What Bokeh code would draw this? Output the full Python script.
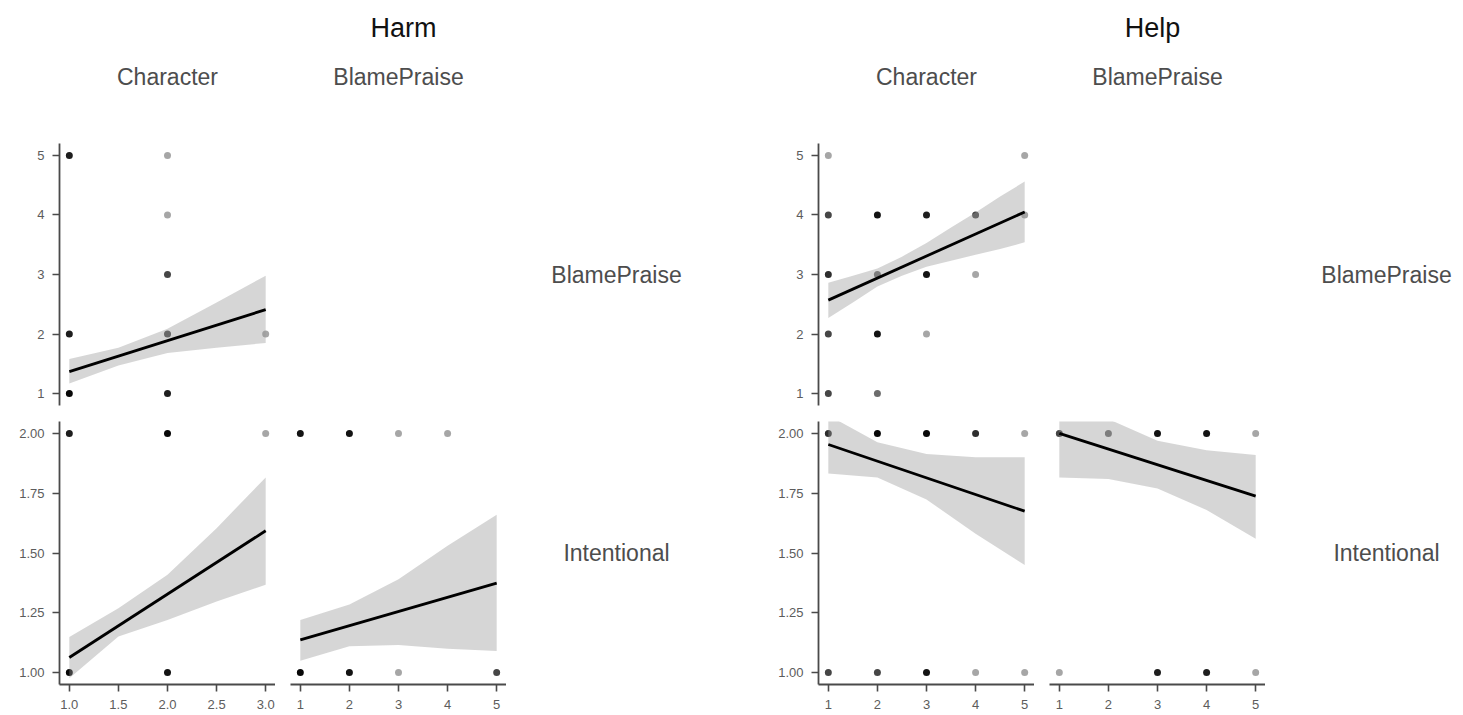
from bokeh.plotting import figure
from bokeh.layouts import row, column
from bokeh.models import Range1d, FixedTicker, PrintfTickFormatter, Spacer, ColumnDataSource
from bokeh.core.properties import value
from bokeh.embed import file_html
from bokeh.resources import INLINE

# ---------------------------------------------------------------- data
# Each scatter cell: x value, y value, number of responses stacked on that spot.

# Harm: BlamePraise ~ Character
harm_bc_x = [1, 1, 1, 2, 2, 2, 2, 2, 3]
harm_bc_y = [5, 2, 1, 5, 4, 3, 2, 1, 2]
harm_bc_n = [5, 5, 8, 1, 1, 3, 3, 5, 1]
harm_bc_fit_x = [1, 3]
harm_bc_fit_y = [1.37, 2.41]
harm_bc_band_x = [1, 1.5, 2, 2.5, 3]
harm_bc_lo = [1.17, 1.47, 1.68, 1.77, 1.85]
harm_bc_hi = [1.58, 1.77, 2.09, 2.53, 2.98]

# Harm: Intentional ~ Character
harm_ic_x = [1, 2, 3, 1, 2]
harm_ic_y = [2, 2, 2, 1, 1]
harm_ic_n = [5, 8, 1, 8, 6]
harm_ic_fit_x = [1, 3]
harm_ic_fit_y = [1.063, 1.593]
harm_ic_band_x = [1, 1.5, 2, 2.5, 3]
harm_ic_lo = [0.976, 1.151, 1.22, 1.297, 1.367]
harm_ic_hi = [1.149, 1.269, 1.409, 1.604, 1.816]

# Harm: Intentional ~ BlamePraise
harm_ib_x = [1, 2, 3, 4, 1, 2, 3, 5]
harm_ib_y = [2, 2, 2, 2, 1, 1, 1, 1]
harm_ib_n = [6, 6, 1, 1, 8, 6, 1, 3]
harm_ib_fit_x = [1, 5]
harm_ib_fit_y = [1.137, 1.374]
harm_ib_band_x = [1, 2, 3, 4, 5]
harm_ib_lo = [1.049, 1.11, 1.115, 1.10, 1.09]
harm_ib_hi = [1.22, 1.285, 1.39, 1.53, 1.66]

# Help: BlamePraise ~ Character
help_bc_x = [1, 1, 1, 1, 1, 2, 2, 2, 2, 3, 3, 3, 4, 4, 5, 5]
help_bc_y = [5, 4, 3, 2, 1, 4, 3, 2, 1, 4, 3, 2, 4, 3, 5, 4]
help_bc_n = [1, 3, 4, 3, 3, 6, 2, 6, 2, 5, 6, 1, 3, 1, 1, 1]
help_bc_fit_x = [1, 5]
help_bc_fit_y = [2.57, 4.05]
help_bc_band_x = [1, 1.5, 2, 2.5, 3, 3.5, 4, 4.5, 5]
help_bc_lo = [2.27, 2.53, 2.80, 2.98, 3.13, 3.23, 3.33, 3.43, 3.54]
help_bc_hi = [2.86, 2.98, 3.10, 3.30, 3.53, 3.79, 4.04, 4.31, 4.56]

# Help: Intentional ~ Character
help_ic_x = [1, 2, 3, 4, 5, 1, 2, 3, 4, 5]
help_ic_y = [2, 2, 2, 2, 2, 1, 1, 1, 1, 1]
help_ic_n = [4, 8, 8, 4, 1, 3, 3, 6, 1, 1]
help_ic_fit_x = [1, 5]
help_ic_fit_y = [1.954, 1.675]
help_ic_band_x = [1, 2, 3, 4, 5]
help_ic_lo = [1.832, 1.816, 1.724, 1.58, 1.45]
help_ic_hi = [2.076, 1.963, 1.914, 1.90, 1.90]

# Help: Intentional ~ BlamePraise
help_ib_x = [1, 2, 3, 4, 5, 1, 3, 4, 5]
help_ib_y = [2, 2, 2, 2, 2, 1, 1, 1, 1]
help_ib_n = [3, 2, 6, 6, 1, 1, 5, 5, 1]
help_ib_fit_x = [1, 5]
help_ib_fit_y = [2.00, 1.738]
help_ib_band_x = [1, 2, 3, 4, 5]
help_ib_lo = [1.816, 1.81, 1.77, 1.68, 1.56]
help_ib_hi = [2.184, 2.06, 1.97, 1.93, 1.91]

groups = ["Harm", "Help"]
variables = ["Character", "BlamePraise", "Intentional"]

char_ticks_harm = [1.0, 1.5, 2.0, 2.5, 3.0]
char_ticks_help = [1, 2, 3, 4, 5]
bp_ticks = [1, 2, 3, 4, 5]
int_ticks = [1.0, 1.25, 1.5, 1.75, 2.0]

# ---------------------------------------------------------------- layout
FONT = "Liberation Sans"
LEFT = 59          # room for the y axis of the first column
FRAME_W = 216      # panel width
COL_GAP = 15       # space between the two panel columns
HEADER_H = 143
ROW1_H = 262
ROW_GAP = 16
ROW2_H = 263
BOTTOM = 31
AXIS_COLOR = "#4a4a4a"
TICK_TEXT = "#5c5c5c"
STRIP_TEXT = "#4d4d4d"
POINT_ALPHA = 0.35


def style_axis(ax, fmt, ticks):
    ax.ticker = FixedTicker(ticks=ticks)
    ax.formatter = PrintfTickFormatter(format=fmt)
    ax.axis_line_color = AXIS_COLOR
    ax.axis_line_width = 1.8
    ax.major_tick_line_color = AXIS_COLOR
    ax.major_tick_line_width = 1.6
    ax.major_tick_out = 7
    ax.major_tick_in = 0
    ax.minor_tick_line_color = None
    ax.major_label_text_font = FONT
    ax.major_label_text_font_size = "13px"
    ax.major_label_text_color = TICK_TEXT
    ax.major_label_standoff = 8


def panel(x, y, n, fit_x, fit_y, band_x, lo, hi, xr, yr,
          xticks=None, xfmt=None, yticks=None, yfmt=None,
          left=0, frame_h=ROW1_H, bottom=ROW_GAP):
    p = figure(width=left + FRAME_W, height=frame_h + bottom,
               x_range=Range1d(*xr), y_range=Range1d(*yr),
               x_axis_location="below" if xticks else None,
               y_axis_location="left" if yticks else None,
               min_border_left=left, min_border_right=0,
               min_border_top=0, min_border_bottom=bottom,
               output_backend="svg", toolbar_location=None,
               outline_line_color=None, background_fill_color="white",
               border_fill_color="white")
    p.xgrid.visible = False
    p.ygrid.visible = False
    if xticks:
        style_axis(p.xaxis[0], xfmt, xticks)
    if yticks:
        style_axis(p.yaxis[0], yfmt, yticks)
    alpha = [1 - (1 - POINT_ALPHA) ** k for k in n]
    src = ColumnDataSource(dict(x=x, y=y, a=alpha))
    p.scatter("x", "y", source=src, size=7, marker="circle",
              fill_color="black", fill_alpha="a", line_color=None)
    p.varea(x=band_x, y1=lo, y2=hi, fill_color="#999999", fill_alpha=0.4)
    p.line(fit_x, fit_y, line_color="black", line_width=2.8)
    return p


def text_fig(w, h, xs, ys, texts, sizes, colors, bottom=0, yr=None):
    p = figure(width=w, height=h + bottom,
               x_range=Range1d(0, w), y_range=yr or Range1d(h, 0),
               x_axis_location=None, y_axis_location=None,
               min_border_left=0, min_border_right=0,
               min_border_top=0, min_border_bottom=bottom,
               output_backend="svg", toolbar_location=None,
               outline_line_color=None, background_fill_color="white",
               border_fill_color="white")
    p.xgrid.visible = False
    p.ygrid.visible = False
    for xx, yy, t, s, c in zip(xs, ys, texts, sizes, colors):
        p.text(x=[xx], y=[yy], text=[t], text_align="center",
               text_baseline="middle", text_font=value(FONT),
               text_font_size=s, text_color=c)
    return p


def half(name, half_w, title_x, label_x, bc, ic, ib, char_range, char_ticks, char_fmt):
    col1_c = LEFT + FRAME_W / 2
    col2_c = LEFT + FRAME_W + COL_GAP + FRAME_W / 2
    header = text_fig(half_w, HEADER_H,
                      [title_x, col1_c, col2_c], [27, 76, 76],
                      [name, variables[0], variables[1]],
                      ["27px", "23px", "23px"], ["#111111", STRIP_TEXT, STRIP_TEXT])

    bp_range = (0.8, 5.2)
    int_range = (0.95, 2.05)

    p_bc = panel(*bc, xr=char_range, yr=bp_range, yticks=bp_ticks, yfmt="%d",
                 left=LEFT, frame_h=ROW1_H, bottom=ROW_GAP)
    p_ic = panel(*ic, xr=char_range, yr=int_range, xticks=char_ticks, xfmt=char_fmt,
                 yticks=int_ticks, yfmt="%.2f", left=LEFT, frame_h=ROW2_H, bottom=BOTTOM)
    p_ib = panel(*ib, xr=bp_range, yr=int_range, xticks=bp_ticks, xfmt="%d",
                 left=COL_GAP, frame_h=ROW2_H, bottom=BOTTOM)

    label_w = half_w - (LEFT + 2 * FRAME_W + COL_GAP)
    lab1 = text_fig(label_w, ROW1_H, [label_x], [0.5], [variables[1]], ["23px"],
                    [STRIP_TEXT], bottom=ROW_GAP, yr=Range1d(0, 1))
    lab2 = text_fig(label_w, ROW2_H, [label_x], [0.5], [variables[2]], ["23px"],
                    [STRIP_TEXT], bottom=BOTTOM, yr=Range1d(0, 1))

    blank = Spacer(width=COL_GAP + FRAME_W, height=ROW1_H + ROW_GAP)
    return column(header,
                  row(p_bc, blank, lab1, spacing=0),
                  row(p_ic, p_ib, lab2, spacing=0),
                  spacing=0)


harm = half(groups[0], 759, 403, 110,
            (harm_bc_x, harm_bc_y, harm_bc_n, harm_bc_fit_x, harm_bc_fit_y,
             harm_bc_band_x, harm_bc_lo, harm_bc_hi),
            (harm_ic_x, harm_ic_y, harm_ic_n, harm_ic_fit_x, harm_ic_fit_y,
             harm_ic_band_x, harm_ic_lo, harm_ic_hi),
            (harm_ib_x, harm_ib_y, harm_ib_n, harm_ib_fit_x, harm_ib_fit_y,
             harm_ib_band_x, harm_ib_lo, harm_ib_hi),
            (0.9, 3.1), char_ticks_harm, "%.1f")

help_ = half(groups[1], 704, 393, 121,
             (help_bc_x, help_bc_y, help_bc_n, help_bc_fit_x, help_bc_fit_y,
              help_bc_band_x, help_bc_lo, help_bc_hi),
             (help_ic_x, help_ic_y, help_ic_n, help_ic_fit_x, help_ic_fit_y,
              help_ic_band_x, help_ic_lo, help_ic_hi),
             (help_ib_x, help_ib_y, help_ib_n, help_ib_fit_x, help_ib_fit_y,
              help_ib_band_x, help_ib_lo, help_ib_hi),
             (0.8, 5.2), char_ticks_help, "%d")

page = row(harm, help_, spacing=0)

open("out.html", "w").write(file_html(page, INLINE))
